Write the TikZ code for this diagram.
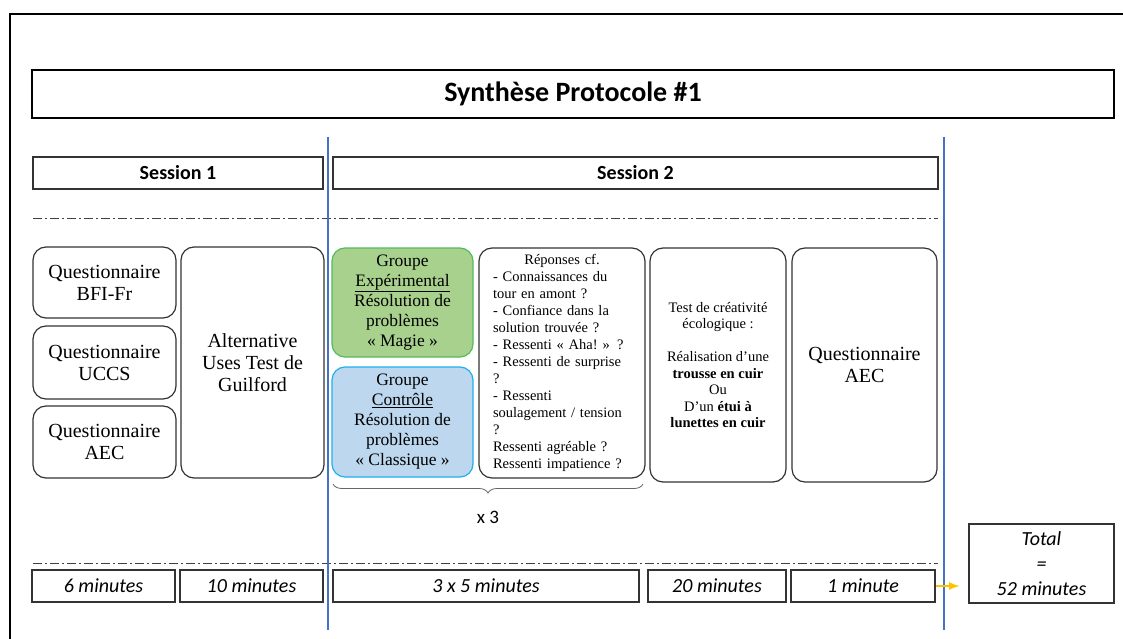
\documentclass[tikz,border=0pt]{standalone}
\usepackage{fontspec}
\setmainfont{Liberation Serif}
\newfontfamily\calibri{Carlito}
\usetikzlibrary{arrows, decorations.pathreplacing}
\definecolor{sepblue}{RGB}{68,114,196}
\definecolor{greenfill}{RGB}{169,209,142}
\definecolor{greenline}{RGB}{84,186,92}
\definecolor{bluefill}{RGB}{189,215,238}
\definecolor{blueline}{RGB}{30,176,236}
\definecolor{arrowgold}{RGB}{255,192,0}

\begin{document}
\begin{tikzpicture}[x=1pt,y=-1pt]
  \tikzstyle{box}=[draw=black!80, line width=1.2pt, rounded corners=13pt, inner sep=0pt, align=center, font=\fontsize{20}{22}\selectfont]
  \tikzstyle{bar}=[draw=black!80, line width=1.2pt, inner sep=0pt, align=center, minimum height=32pt]
  \tikzstyle{sep}=[black!75, line width=1pt, dash pattern=on 9pt off 3pt on 2pt off 3pt]
  \tikzstyle{timing}=[bar, font=\calibri\itshape\fontsize{20}{22}\selectfont]

  \useasboundingbox (0,0) rectangle (1123,639);
  \draw[line width=2pt] (10,639) -- (10,14) -- (1123,14); % Outer frame

  \node[draw, line width=2.5pt, inner sep=0pt, minimum width=1082pt, minimum height=48pt,
    font=\calibri\bfseries\fontsize{28}{30}\selectfont] (T) at (573,94) {Synthèse Protocole \#1};

  \node[bar, minimum width=290pt, font=\calibri\bfseries\fontsize{20}{22}\selectfont] (S1) at (178,173) {Session 1};
  \node[bar, minimum width=605pt, font=\calibri\bfseries\fontsize{20}{22}\selectfont] (S2) at (635.5,173) {Session 2};
  \draw[sep] (33,218) -- (938,218); % Top dash-dot line

  % Session 1
  \node[box, minimum width=143pt, minimum height=71pt] (Q1) at (104.5,282.5) {Questionnaire\\BFI-Fr};
  \node[box, minimum width=143pt, minimum height=73pt] (Q2) at (104.5,362.5) {Questionnaire\\UCCS};
  \node[box, minimum width=143pt, minimum height=72pt] (Q3) at (104.5,442) {Questionnaire\\AEC};
  \node[box, minimum width=143pt, minimum height=231pt] (AUT) at (252.5,362.5) {Alternative\\Uses Test de\\Guilford};

  % Session 2
  \node[box, fill=greenfill, draw=greenline, minimum width=141pt, minimum height=109pt,
    font=\fontsize{17.5}{20}\selectfont] (GE) at (402.5,302.5)
    {Groupe\\\underline{Expérimental}\\Résolution de\\problèmes\\«~Magie~»};
  \node[box, fill=bluefill, draw=blueline, minimum width=141pt, minimum height=110pt,
    font=\fontsize{17.5}{20}\selectfont] (GC) at (402.5,422)
    {Groupe\\\underline{Contrôle}\\Résolution de\\problèmes\\«~Classique~»};
  \node[box, minimum width=166pt, minimum height=230pt, text width=138pt, align=left,
    font=\fontsize{14.5}{17}\selectfont] (R) at (562,363)
    {\makebox[138pt]{Réponses cf.}\\- Connaissances du\\tour en amont ?\\- Confiance dans la\\solution trouvée ?\\
     - Ressenti «~Aha!~» ?\\- Ressenti de surprise\\?\\- Ressenti\\soulagement / tension\\?\\
     Ressenti agréable ?\\Ressenti impatience ?};
  \node[box, minimum width=136pt, minimum height=234pt, font=\fontsize{14.5}{16.5}\selectfont] (TC) at (718,365)
    {Test de créativité\\écologique :\\[16.5pt]Réalisation d'une\\\textbf{trousse en cuir}\\Ou\\D'un \textbf{étui à}\\\textbf{lunettes en cuir}};
  \node[box, minimum width=145pt, minimum height=234pt] (QA) at (864.5,365) {Questionnaire\\AEC};

  \draw[decorate, decoration={brace, mirror, amplitude=9pt}, black!60, line width=0.8pt]
    (333,484) -- (643,484); % Brace under the repeated blocks
  \node[font=\calibri\fontsize{19}{22}\selectfont] (X) at (488,517) {x 3};

  % Timings
  \draw[sep] (33,563) -- (938,563); % Bottom dash-dot line
  \node[timing, minimum width=143pt] (M1) at (103.5,586) {6 minutes};
  \node[timing, minimum width=143pt] (M2) at (251.5,586) {10 minutes};
  \node[timing, minimum width=306pt] (M3) at (486,586) {3 x 5 minutes};
  \node[timing, minimum width=138pt] (M4) at (717,586) {20 minutes};
  \node[timing, minimum width=144pt] (M5) at (863,586) {1 minute};
  \node[bar, minimum width=145pt, minimum height=79pt,
    font=\calibri\itshape\fontsize{20}{25}\selectfont] (Tot) at (1041.5,563.5) {Total\\=\\52 minutes};

  \draw[sepblue, line width=2pt] (328,137) -- (328,630); % Left blue line
  \draw[sepblue, line width=2pt] (944,137) -- (944,630); % Right blue line
  \draw[->,>=latex, arrowgold, line width=2.5pt, shorten >=9pt] (M5.east) -- (M5.east -| Tot.west); % Towards total
\end{tikzpicture}
\end{document}
